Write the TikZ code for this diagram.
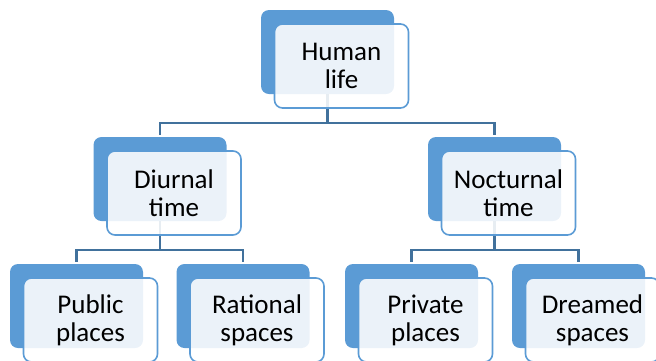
\documentclass[tikz,border=0pt]{standalone}
\usepackage{fontspec}
\setmainfont{Carlito}
\usetikzlibrary{positioning}

\definecolor{boxblue}{HTML}{5B9BD5}
\definecolor{linkblue}{HTML}{41719C}

\begin{document}
\begin{tikzpicture}[x=1pt,y=-1pt,
	backbox/.style={fill=boxblue,rounded corners=8pt,minimum width=133pt,minimum height=84pt,inner sep=0pt},
	frontbox/.style={draw=boxblue,line width=1.6pt,fill=white,fill opacity=0.88,text opacity=1,rounded corners=8pt,
		minimum width=134pt,minimum height=84pt,inner sep=0pt,align=center,font=\fontsize{27}{28}\selectfont},
	link/.style={draw=linkblue,line width=2.2pt,shorten >=2pt}]
				% Rahmen 656 x 360
				\useasboundingbox (0,0) rectangle (656,360);
				
				% hintere Kaesten (blau)
				\node[backbox] (hl) at (327.5,52) {};
				\node[backbox] (dt) at (160,179) {};
				\node[backbox] (nt) at (494.5,179) {};
				\foreach \n/\x in {pp/76.5,rs/243,pr/411.5,ds/578.5}
				\node[backbox] (\n) at (\x,306) {};
				
				% Verbindungslinien
				\coordinate (lvl1) at (0,123);
				\coordinate (lvl2) at (0,250);
				\foreach \c in {dt,nt}
				\draw[link] (hl.south) -- (hl.south |- lvl1) -| (\c.north);
				\foreach \c in {pp,rs}
				\draw[link] (dt.south) -- (dt.south |- lvl2) -| (\c.north);
				\foreach \c in {pr,ds}
				\draw[link] (nt.south) -- (nt.south |- lvl2) -| (\c.north);
				
				% vordere Kaesten mit Text
				\node[frontbox] (hlf) at ([xshift=14pt,yshift=-14pt]hl.center) {Human\\life};
				\node[frontbox] (dtf) at ([xshift=14pt,yshift=-14pt]dt.center) {Diurnal\\time};
				\node[frontbox] (ntf) at ([xshift=14pt,yshift=-14pt]nt.center) {Nocturnal\\time};
				\node[frontbox] (ppf) at ([xshift=14pt,yshift=-14pt]pp.center) {Public\\places};
				\node[frontbox] (rsf) at ([xshift=14pt,yshift=-14pt]rs.center) {Rational\\spaces};
				\node[frontbox] (prf) at ([xshift=14pt,yshift=-14pt]pr.center) {Private\\places};
				\node[frontbox] (dsf) at ([xshift=14pt,yshift=-14pt]ds.center) {Dreamed\\spaces};
				
\end{tikzpicture}
\end{document}
